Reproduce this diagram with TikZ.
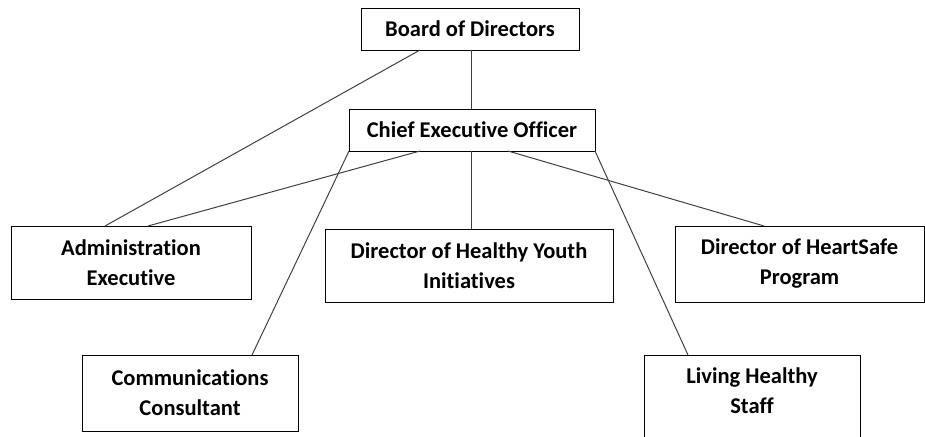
\documentclass[tikz,border=0pt]{standalone}
\usepackage{fontspec}
\setmainfont{Carlito}[Ligatures=NoCommon]
\begin{document}
\begin{tikzpicture}[x=1pt,y=-1pt,
  box/.style={draw=black,line width=0.8pt,inner sep=0pt,align=center,
    font=\fontsize{22.5}{30}\selectfont\bfseries,fill=white},
  conn/.style={draw=black!75,line width=1pt}]
\useasboundingbox (0,0) rectangle (925,436);
\clip (0,0) rectangle (925,436);
\node[box,minimum width=218pt,minimum height=42pt] (board) at (470,29) {Board of Directors};
\node[box,minimum width=246pt,minimum height=42pt] (ceo) at (472,130) {Chief Executive Officer};
\node[box,minimum width=240pt,minimum height=73pt] (admin) at (131,262.5) {Administration\\Executive};
\node[box,minimum width=288pt,minimum height=73pt] (dhyi) at (469,265.5) {Director of Healthy Youth\\Initiatives};
\node[box,minimum width=249pt,minimum height=76pt] (heart) at (799.5,264) {Director of HeartSafe\\Program};
\node[box,minimum width=216pt,minimum height=76pt] (comm) at (190,393) {Communications\\Consultant};
\node[draw=black,line width=0.8pt,inner sep=0pt,minimum width=216pt,minimum height=100pt] (living) at (752,405) {};
\node[box,draw=none,fill=none] (livingt) at (752,390.5) {Living Healthy\\Staff};
\coordinate (bA) at (420,50);
\coordinate (bB) at (471,50);
\coordinate (cA) at (420,151);
\coordinate (cB) at (471,151);
\coordinate (cC) at (508,151);
\coordinate (cD) at (349,151);
\coordinate (cE) at (595,151);
\coordinate (aA) at (105,226);
\coordinate (aB) at (148,226);
\coordinate (dA) at (471,229);
\coordinate (hA) at (764,226);
\coordinate (mA) at (252,355);
\coordinate (lA) at (688,355);
\draw[conn] (bA) -- (aA);
\draw[conn] (bB) -- (ceo.north -| bB);
\draw[conn] (cA) -- (aB);
\draw[conn] (cB) -- (dA);
\draw[conn] (cC) -- (hA);
\draw[conn] (cD) -- (mA);
\draw[conn] (cE) -- (lA);
\end{tikzpicture}
\end{document}
